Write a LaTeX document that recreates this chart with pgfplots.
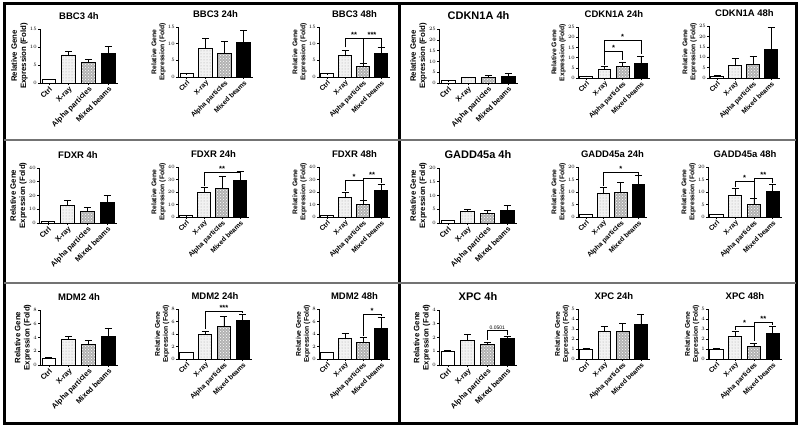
\documentclass[border=0pt]{standalone}
\usepackage{pgfplots}
\pgfplotsset{compat=1.18}
\usetikzlibrary{patterns}
\usepackage{fontspec}
\setmainfont{Liberation Sans}
\newcommand{\fs}[1]{\fontsize{#1}{#1}\selectfont}
\newcommand{\fsl}[1]{\fontsize{#1}{1.18\dimexpr#1pt\relax}\selectfont}
\pgfplotsset{
 panel/.style={
  scale only axis, anchor=north west, clip=false,
  ymin=0, xmin=-0.45, xmax=3.5,
  axis x line*=bottom, axis y line*=left,
  axis line style={line width=0.8pt, -},
  tick align=outside, major tick length=2pt,
  tick style={line width=0.6pt, black},
  xtick={0,1,2,3},
  xticklabels={Ctrl,X-ray,Alpha particles,Mixed beams},
  x tick label style={rotate=45, anchor=north east, font=\bfseries\fs{6.8}, inner sep=0.5pt},
  y tick label style={font=\fs{4.2}, inner sep=1pt},
  ylabel={Relative Gene\\Expression (Fold)},
  ylabel style={align=center, font=\bfseries\fsl{6.8}, inner sep=0pt},
  ylabel shift=1pt,
  title style={font=\bfseries\fs{9.5}, inner sep=1pt, yshift=2pt},
  ybar, bar width=0.7, bar shift=0pt,
 },
 big/.style={x tick label style={font=\bfseries\fs{7.4}}, ylabel style={font=\bfseries\fsl{7.8}}, y tick label style={font=\fs{4.6}}},
 eb/.style={error bars/.cd, y dir=plus, y explicit,
   error bar style={line width=0.7pt, black, solid},
   error mark options={line width=0.7pt, black, mark size=3.5pt, rotate=90}},
}
\newcommand{\bars}[8]{%
 \addplot[fill=white, draw=black, line width=0.8pt, eb] coordinates {(0,#1) +- (0,#2)};
 \addplot[fill=gray!10, draw=black, line width=0.8pt, postaction={pattern=dots, pattern color=gray!70}, eb] coordinates {(1,#3) +- (0,#4)};
 \addplot[fill=gray!60, draw=black, line width=0.8pt, postaction={pattern=crosshatch dots, pattern color=white}, eb] coordinates {(2,#5) +- (0,#6)};
 \addplot[fill=black, draw=black, line width=0.8pt, eb] coordinates {(3,#7) +- (0,#8)};
}
\newcommand{\sig}[6]{%
 \draw[line width=0.7pt] (axis cs:#1,#2) -- (axis cs:#1,#5) -- node[above, inner sep=0.5pt, font=\bfseries\fs{7.5}] {#6} (axis cs:#3,#5) -- (axis cs:#3,#4);
}
\begin{document}
\begin{tikzpicture}
\fill[white] (0,0) rectangle (800pt,-426pt);
\path[use as bounding box] (0,0) rectangle (800pt,-426pt);
\draw[line width=3pt] (4pt,-3pt) rectangle (796pt,-423pt);
\draw[line width=3pt] (399pt,-3pt) -- (399pt,-423pt);
\draw[line width=1.2pt, black!55] (4pt,-140pt) -- (796pt,-140pt);
\draw[line width=1.2pt, black!55] (4pt,-283pt) -- (796pt,-283pt);

% Row 1
\begin{axis}[panel, big, at={(40pt,-29pt)}, width=78pt, height=54pt, ymax=15, ytick={0,5,10,15}, title={BBC3 4h}]
\bars{1}{0.05}{7.8}{1.0}{5.6}{0.9}{8.2}{2.0}
\end{axis}
\begin{axis}[panel, at={(178pt,-27pt)}, width=75pt, height=50pt, ymax=15, ytick={0,5,10,15}, title={BBC3 24h}]
\bars{1}{0.05}{8.5}{3.0}{7.1}{3.7}{10.3}{3.8}
\end{axis}
\begin{axis}[panel, at={(319pt,-27pt)}, width=71pt, height=50pt, ymax=15, ytick={0,5,10,15}, title={BBC3 48h}]
\bars{1}{0.05}{6.4}{1.6}{3.1}{0.9}{7.2}{1.6}
\sig{1}{8.9}{2}{4.3}{11.7}{**}
\sig{2}{4.3}{3}{8.9}{11.7}{***}
\end{axis}
\begin{axis}[panel, big, at={(439pt,-29pt)}, width=79pt, height=54pt, ymax=25, ytick={0,5,10,15,20,25}, title={CDKN1A 4h}, title style={font=\bfseries\fs{11}}]
\bars{1}{0.05}{2.5}{0.2}{2.8}{0.6}{3.2}{1.5}
\end{axis}
\begin{axis}[panel, at={(578pt,-27pt)}, width=72pt, height=51pt, ymax=25, ytick={0,5,10,15,20,25}, title={CDKN1A 24h}]
\bars{1}{0.05}{4.0}{1.5}{5.9}{2.0}{7.2}{3.5}
\sig{1}{6.2}{2}{8.9}{13.2}{*}
\sig{1}{13.2}{3}{11.8}{18.4}{*}
\end{axis}
\begin{axis}[panel, at={(709pt,-26pt)}, width=71pt, height=52pt, ymax=25, ytick={0,5,10,15,20,25}, title={CDKN1A 48h}]
\bars{1}{0.05}{6.0}{3.5}{6.5}{3.8}{13.7}{10.6}
\end{axis}

% Row 2
\begin{axis}[panel, big, at={(39pt,-168pt)}, width=78pt, height=55pt, ymax=40, ytick={0,10,20,30,40}, title={FDXR 4h}]
\bars{1}{0.05}{13}{3.5}{8.5}{2.7}{15}{5.3}
\end{axis}
\begin{axis}[panel, at={(178pt,-167pt)}, width=71pt, height=50pt, ymax=40, ytick={0,10,20,30,40}, title={FDXR 24h}]
\bars{1}{0.05}{20}{3.5}{23}{9.7}{29.5}{7}
\sig{1}{24.5}{3}{30.5}{35.5}{**}
\end{axis}
\begin{axis}[panel, at={(319pt,-167pt)}, width=71pt, height=50pt, ymax=40, ytick={0,10,20,30,40}, title={FDXR 48h}]
\bars{1}{0.05}{15.3}{4.7}{9.8}{3.2}{21.5}{5}
\sig{1}{21}{2}{14}{29.5}{*}
\sig{2}{14}{3}{27.5}{31}{**}
\end{axis}
\begin{axis}[panel, big, at={(439pt,-168pt)}, width=78pt, height=55pt, ymax=20, ytick={0,5,10,15,20}, title={GADD45a 4h}, title style={font=\bfseries\fs{11}}]
\bars{1}{0.05}{4.2}{0.8}{3.5}{1.0}{4.5}{1.8}
\end{axis}
\begin{axis}[panel, at={(578pt,-167pt)}, width=69pt, height=50pt, ymax=20, ytick={0,5,10,15,20}, title={GADD45a 24h}]
\bars{1}{0.05}{9.6}{2.4}{9.9}{4.1}{13.1}{3.7}
\sig{1}{12.6}{3}{16.9}{17.8}{*}
\end{axis}
\begin{axis}[panel, at={(708pt,-167pt)}, width=74pt, height=50pt, ymax=20, ytick={0,5,10,15,20}, title={GADD45a 48h}]
\bars{1}{0.05}{8.6}{3.0}{5.0}{2.3}{10.4}{2.8}
\sig{1}{12.2}{2}{7.8}{14.1}{*}
\sig{2}{7.8}{3}{13.6}{15.4}{**}
\end{axis}

% Row 3
\begin{axis}[panel, big, at={(40pt,-310pt)}, width=78pt, height=55pt, ymax=8, ytick={0,2,4,6,8}, title={MDM2 4h}]
\bars{1}{0.05}{3.7}{0.5}{3.0}{0.6}{4.1}{1.3}
\end{axis}
\begin{axis}[panel, at={(178pt,-309pt)}, width=74pt, height=50pt, ymax=8, ytick={0,2,4,6,8}, title={MDM2 24h}]
\bars{1}{0.05}{4.0}{0.5}{5.2}{1.6}{6.2}{1.0}
\sig{1}{4.8}{3}{7.4}{7.7}{***}
\end{axis}
\begin{axis}[panel, at={(319pt,-309pt)}, width=71pt, height=50pt, ymax=8, ytick={0,2,4,6,8}, title={MDM2 48h}]
\bars{1}{0.05}{3.3}{0.8}{2.7}{0.7}{4.9}{1.8}
\sig{2}{3.7}{3}{6.9}{7.2}{*}
\end{axis}
\begin{axis}[panel, big, at={(439pt,-310pt)}, width=78pt, height=55pt, ymax=4, ytick={0,1,2,3,4}, title={XPC 4h}, title style={font=\bfseries\fs{11}}]
\bars{1}{0.05}{1.8}{0.4}{1.5}{0.15}{1.9}{0.2}
\draw[line width=0.7pt] (axis cs:2,1.8) -- (axis cs:2,2.5) -- node[above, inner sep=0.5pt, font=\fs{5}] {0.0501} (axis cs:3,2.5) -- (axis cs:3,2.2);
\end{axis}
\begin{axis}[panel, at={(578pt,-309pt)}, width=72pt, height=50pt, ymax=5, ytick={0,1,2,3,4,5}, title={XPC 24h}]
\bars{1}{0.05}{2.8}{0.5}{2.8}{0.8}{3.5}{1.0}
\end{axis}
\begin{axis}[panel, at={(708pt,-309pt)}, width=74pt, height=50pt, ymax=5, ytick={0,1,2,3,4,5}, title={XPC 48h}]
\bars{1}{0.05}{2.3}{0.5}{1.3}{0.3}{2.6}{0.7}
\sig{1}{2.9}{2}{1.8}{3.3}{*}
\sig{2}{1.8}{3}{3.4}{3.7}{**}
\end{axis}
\end{tikzpicture}
\end{document}
